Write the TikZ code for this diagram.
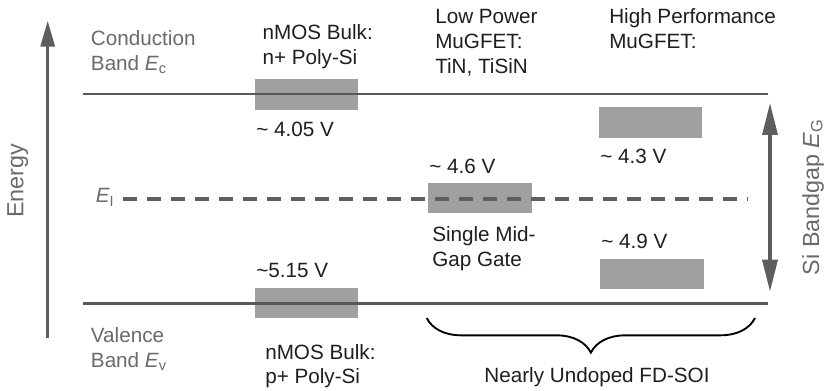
\documentclass[tikz,border=0pt]{standalone}
\usepackage{fontspec}
\setmainfont{Liberation Sans}
\usetikzlibrary{arrows.meta,decorations.pathreplacing}
\definecolor{txt}{HTML}{1E1E1E}
\definecolor{gtxt}{HTML}{6A6A6A}
\definecolor{band}{HTML}{595959}
\definecolor{arrc}{HTML}{5E5E5E}
\definecolor{boxg}{HTML}{A0A0A0}
\begin{document}
\begin{tikzpicture}[x=0.75pt,y=-0.75pt,
  lbl/.style={anchor=base west,inner sep=0pt,text=txt,font=\fontsize{15.5}{18}\selectfont},
  glbl/.style={lbl,text=gtxt},
  biglbl/.style={anchor=base,inner sep=0pt,rotate=90,text=gtxt,font=\fontsize{17.5}{20}\selectfont},
  bandline/.style={draw=band,line width=2pt},
  midline/.style={draw=arrc,line width=2.8pt,dash pattern=on 11pt off 7pt},
  arr/.style={draw=arrc,line width=2.5pt},
  bracestyle/.style={draw=black,line width=1.4pt,decorate,decoration={brace,mirror,amplitude=26pt}}]
\useasboundingbox (0,0) rectangle (828,391);

% gate work-function boxes
\fill[boxg] (255,79) rectangle (358,110);
\fill[boxg] (255,288) rectangle (358,318);
\fill[boxg] (428,183) rectangle (532,213);
\fill[boxg] (599,107) rectangle (702,138);
\fill[boxg] (600,259) rectangle (704,289);

% band lines
\coordinate (cbL) at (83,94);    \coordinate (cbR) at (768,94);
\coordinate (vbL) at (83,303.3); \coordinate (vbR) at (768,303.3);
\coordinate (eiL) at (122.7,199); \coordinate (eiR) at (747,199);
\draw[bandline] (cbL) -- (cbR);
\draw[bandline] (vbL) -- (vbR);
\draw[midline] (eiL) -- (eiR);

% energy axis
\coordinate (enB) at (47.7,337.7); \coordinate (enT) at (47.7,20.7);
\draw[arr,-{Triangle[length=19.5pt,width=10.5pt]}] (enB) -- (enT);
\node[biglbl] (energy) at (23.3,181) {Energy};

% bandgap arrow
\coordinate (bgB) at (770,291.7); \coordinate (bgT) at (770,103);
\draw[arr,{Triangle[length=24pt,width=11.25pt]}-{Triangle[length=24pt,width=11.25pt]}] (bgB) -- (bgT);
\node[biglbl] (bandgap) at (819,197) {Si Bandgap \textit{E}\textsubscript{G}};

% left band labels
\node[glbl] (cb1) at (90.7,46) {Conduction};
\node[glbl] (cb2) at (90.7,71) {Band \textit{E}\textsubscript{c}};
\node[glbl] (vb1) at (90.7,342.7) {Valence};
\node[glbl] (vb2) at (90.7,368) {Band \textit{E}\textsubscript{v}};
\node[glbl] (ei) at (95.5,203) {\textit{E}\textsubscript{I}};

% nMOS labels
\node[lbl] (n1) at (262.3,40) {nMOS Bulk:};
\node[lbl] (n2) at (262.3,64.5) {n+ Poly-Si};
\node[lbl] (nv) at (256,136.7) {\char`~\ 4.05 V};
\node[lbl] (pv) at (256,277.3) {\char`~5.15 V};
\node[lbl] (p1) at (265,359.3) {nMOS Bulk:};
\node[lbl] (p2) at (265,383.5) {p+ Poly-Si};

% low power
\node[lbl] (lp1) at (435,23.3) {Low Power};
\node[lbl] (lp2) at (435,48.3) {MuGFET:};
\node[lbl] (lp3) at (435,73.3) {TiN, TiSiN};
\node[lbl] (mv) at (429,173.3) {\char`~\ 4.6 V};
\node[lbl] (mg1) at (432,241.7) {Single Mid-};
\node[lbl] (mg2) at (432,266.7) {Gap Gate};

% high performance
\node[lbl] (hp1) at (609,23.3) {High Performance};
\node[lbl] (hp2) at (609,48.3) {MuGFET:};
\node[lbl] (hv1) at (600,163.3) {\char`~\ 4.3 V};
\node[lbl] (hv2) at (601,248.3) {\char`~\ 4.9 V};

% brace
\coordinate (brL) at (426.7,318); \coordinate (brR) at (755,318);
\draw[bracestyle] (brL) -- (brR);
\node[lbl,anchor=base] (fdsoi) at (597,382.5) {Nearly Undoped FD-SOI};
\end{tikzpicture}
\end{document}
